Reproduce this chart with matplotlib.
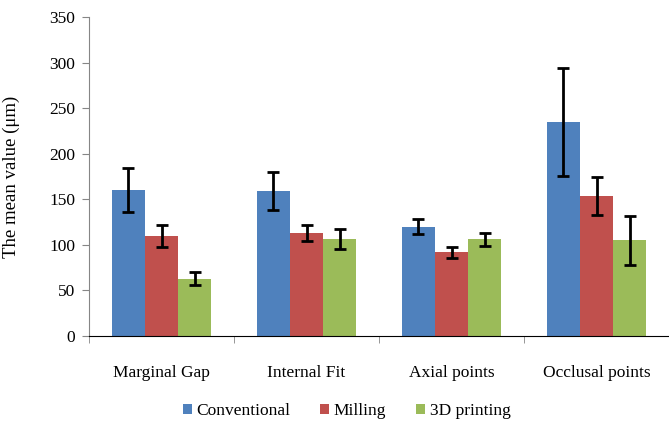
import numpy as np
import matplotlib.pyplot as plt

plt.rcParams.update({
    "font.family": ["Liberation Serif", "DejaVu Serif"],
    "font.size": 12.5,
})

categories = ["Marginal Gap", "Internal Fit", "Axial points", "Occlusal points"]
series = ["Conventional", "Milling", "3D printing"]
means = {
    "Conventional": [160, 159, 120, 235],
    "Milling": [110, 113, 92, 154],
    "3D printing": [63, 106, 106, 105],
}
errors = {
    "Conventional": [24, 21, 8, 59],
    "Milling": [12, 8.5, 6, 21],
    "3D printing": [7, 11, 7, 27],
}
colors = ["#4F81BD", "#C0504D", "#9BBB59"]

fig = plt.figure(figsize=(6.69, 4.25), dpi=100)
ax = fig.add_axes([89 / 669, 1 - 336 / 425, 580 / 669, 319 / 425])

x = np.arange(len(categories))
w = 0.228
for i, (name, color) in enumerate(zip(series, colors)):
    ax.bar(x + (i - 1) * w, means[name], w, color=color, label=name,
           yerr=errors[name], capsize=4.5,
           error_kw={"elinewidth": 2, "capthick": 2, "ecolor": "black"})

ax.set_xlim(-0.5, len(categories) - 0.5)
ax.set_ylim(0, 350)
ax.set_yticks(range(0, 351, 50))
ax.set_xticks(x)
ax.set_xticklabels(categories, fontsize=12.5)
ax.set_xticks(np.arange(-0.5, len(categories)), minor=True)
ax.tick_params(axis="x", which="major", length=0, pad=21)
ax.tick_params(axis="x", which="minor", length=5, color="#868686")
ax.tick_params(axis="y", length=5, color="#868686", labelsize=12.5, pad=5)
ax.set_ylabel("The mean value (μm)", fontsize=13.5)
ax.yaxis.set_label_coords(-69 / 580, 0.5)

for side in ["top", "right"]:
    ax.spines[side].set_visible(False)
ax.spines["left"].set_color("#868686")
ax.spines["bottom"].set_color("black")

fig.legend(loc="center", bbox_to_anchor=(0.518, 1 - 411 / 425), ncol=3,
           frameon=False, handlelength=0.55, handleheight=0.55,
           handletextpad=0.25, columnspacing=1.7, fontsize=12.5)

fig.savefig("out.png", dpi=100)
